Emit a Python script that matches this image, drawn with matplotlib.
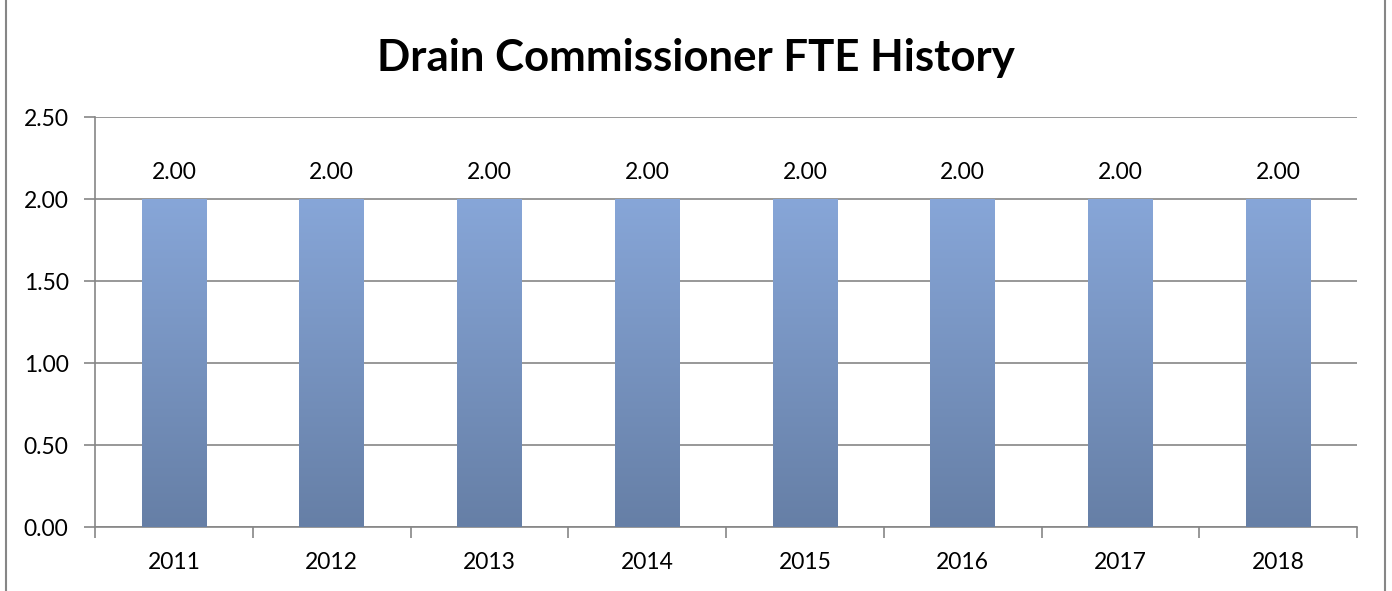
import numpy as np
import matplotlib.pyplot as plt
from matplotlib.colors import LinearSegmentedColormap
from matplotlib.patches import Rectangle

years = ["2011", "2012", "2013", "2014", "2015", "2016", "2017", "2018"]
fte = [2.00, 2.00, 2.00, 2.00, 2.00, 2.00, 2.00, 2.00]
y_ticks = [0.0, 0.5, 1.0, 1.5, 2.0, 2.5]

plt.rcParams["font.family"] = ["Lato", "DejaVu Sans"]

fig = plt.figure(figsize=(13.92, 5.91), dpi=100)
ax = fig.add_axes([95 / 1392, 1 - 527 / 591, (1357 - 95) / 1392, (527 - 117) / 591])

# figure border (Excel chart frame)
fig.patches.append(Rectangle((6 / 1392, -0.05), (1385 - 6) / 1392, 1.2,
                             transform=fig.transFigure, fill=False,
                             edgecolor="#868686", linewidth=1.5))

x = np.arange(len(years))
bw = 0.41
cmap = LinearSegmentedColormap.from_list("bar", ["#667FA6", "#87A6D8"])
grad = np.linspace(0, 1, 256).reshape(-1, 1)

bars = ax.bar(x, fte, width=bw, color="none", zorder=3)
for b in bars:
    x0, w, h = b.get_x(), b.get_width(), b.get_height()
    ax.imshow(grad, extent=[x0, x0 + w, 0, h], origin="lower", cmap=cmap,
              aspect="auto", zorder=3)
    ax.text(x0 + w / 2, h + 0.1, f"{h:.2f}", ha="center", va="bottom",
            fontsize=16.5, color="black")

ax.set_xlim(-0.5, len(years) - 0.5)
ax.set_ylim(0, 2.5)
ax.set_yticks(y_ticks)
ax.set_yticklabels([f"{v:.2f}" for v in y_ticks], fontsize=16.5)
ax.yaxis.grid(True, color="#868686", linewidth=1.2)
ax.set_axisbelow(True)

ax.set_xticks(x)
ax.set_xticklabels(years, fontsize=16.5)
ax.tick_params(axis="x", which="major", length=0, pad=18)
ax.set_xticks(np.arange(-0.5, len(years)), minor=True)
ax.tick_params(axis="x", which="minor", length=8, width=1.2, color="#868686")
ax.tick_params(axis="y", length=8, width=1.2, color="#868686", pad=11)

for s in ["top", "right"]:
    ax.spines[s].set_visible(False)
ax.spines["left"].set_color("#868686")
ax.spines["bottom"].set_color("#868686")
ax.spines["left"].set_linewidth(1.2)
ax.spines["bottom"].set_linewidth(1.2)

fig.text(0.5, 1 - 58 / 591, "Drain Commissioner FTE History", ha="center",
         va="center", fontsize=31.5, fontweight="bold")

fig.savefig("out.png", dpi=100)
